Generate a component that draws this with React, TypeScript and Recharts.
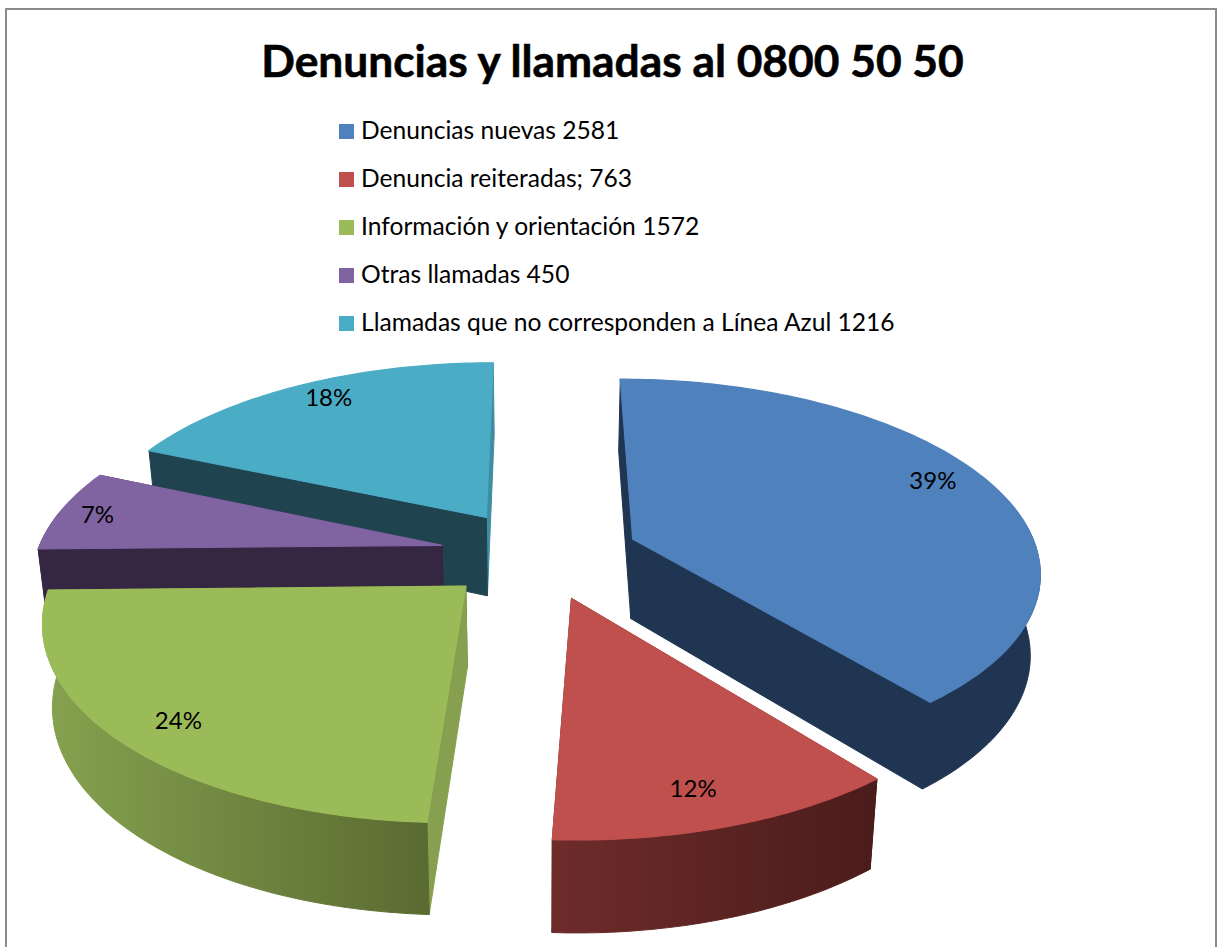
import { PieChart, Pie, Legend } from "recharts";

const categories = [
  "Denuncias nuevas 2581",
  "Denuncia reiteradas; 763",
  "Información y orientación 1572",
  "Otras llamadas 450",
  "Llamadas que no corresponden a Línea Azul 1216",
];
const values = [2581, 763, 1572, 450, 1216];
const colors = ["#4F81BD", "#C0504D", "#9BBB59", "#8064A2", "#4BACC6"];

// wall shades: [low angle wall, high angle wall], then outer wall gradient left -> right
const radialWalls = [
  ["#1F3552", "#1F3552"],
  ["#4A1C1B", "#4A1C1B"],
  ["#87A04F", "#5C6E30"],
  ["#352742", "#352742"],
  ["#1F4450", "#3F8DA3"],
];
const outerWalls = [
  ["#1F3552", "#1F3552"],
  ["#6E2C2B", "#4A1C1B"],
  ["#86A24F", "#5A6B31"],
  ["#352742", "#352742"],
  ["#1F4450", "#1F4450"],
];
const labelRadius = [0.87, 0.845, 0.858, 0.903, 0.884];
const labelTurn = [-3.6, 1.3, -0.8, 0, 1.8];

// pie goes counter clockwise so slices paint back to front
const paintOrder = [0, 4, 3, 2, 1];
const table = paintOrder.map((i) => ({
  name: categories[i],
  value: values[i],
  fill: colors[i],
}));
const total = values.reduce((a, b) => a + b, 0);
const startAngle = 90 - (360 * values[0]) / total;

// fake 3D view
const TILT = 0.45;
const EYE = 2720;
const DEPTH = 80;
const EXPLODE = 100;
const WIDEN = 0.965;
const rad = Math.PI / 180;

const project = (cx: number, cy: number, X: number, Y: number, z: number) => {
  const s = EYE / (EYE + Y);
  const shrink = 1 - (0.02 * z) / DEPTH;
  return [cx + X * s * shrink, cy - Y * TILT * s * shrink + z * s];
};

const toPath = (pts: number[][]) =>
  "M" + pts.map((p) => p[0].toFixed(1) + "," + p[1].toFixed(1)).join("L") + "Z";

function Slice3D(props: any) {
  const { cx, cy, outerRadius, fill } = props;
  const i = categories.indexOf(props.name);
  const low = 90 - props.endAngle;
  const high = 90 - props.startAngle;
  const mid = ((low + high) / 2) * rad;
  const ox = EXPLODE * Math.sin(mid);
  const oy = EXPLODE * Math.cos(mid);
  const rim = (deg: number, z: number) =>
    project(
      cx,
      cy,
      ox + WIDEN * outerRadius * Math.sin(deg * rad),
      oy + outerRadius * Math.cos(deg * rad),
      z
    );
  const apex = (z: number) => project(cx, cy, ox, oy, z);

  const arcDegs: number[] = [];
  for (let d = low; d < high; d += 1) arcDegs.push(d);
  arcDegs.push(high);

  const topPts = [apex(0), ...arcDegs.map((d) => rim(d, 0))];
  const front = arcDegs.filter((d) => Math.cos(d * rad) < 0.2);
  const frontTop = front.map((d) => rim(d, 0));
  const frontBottom = front.map((d) => rim(d, DEPTH)).reverse();
  const xs = frontTop.map((p) => p[0]);
  const gradId = "outer-wall-" + i;
  const outerFill = `url(#${gradId})`;

  return (
    <g>
      <defs>
        <linearGradient
          id={gradId}
          gradientUnits="userSpaceOnUse"
          x1={xs.length ? Math.min(...xs) : 0}
          x2={xs.length ? Math.max(...xs) : 1}
          y1={0}
          y2={0}
        >
          <stop offset="0%" stopColor={outerWalls[i][0]} />
          <stop offset="100%" stopColor={outerWalls[i][1]} />
        </linearGradient>
      </defs>
      <path d={toPath([apex(0), rim(high, 0), rim(high, DEPTH), apex(DEPTH)])} fill={radialWalls[i][1]} stroke={radialWalls[i][1]} strokeWidth={1} />
      <path d={toPath([apex(0), rim(low, 0), rim(low, DEPTH), apex(DEPTH)])} fill={radialWalls[i][0]} stroke={radialWalls[i][0]} strokeWidth={1} />
      {front.length > 1 && <path d={toPath([...frontTop, ...frontBottom])} fill={outerFill} stroke={outerFill} strokeWidth={1} />}
      <path d={toPath(topPts)} fill={fill} stroke={fill} strokeWidth={1.2} />
    </g>
  );
}

function renderLabel(props: any) {
  const { cx, cy, outerRadius, midAngle, percent, name } = props;
  const i = categories.indexOf(name);
  const deg = (90 - midAngle) * rad;
  const turned = deg + labelTurn[i] * rad;
  const r = outerRadius * labelRadius[i];
  const [x, y] = project(
    cx,
    cy,
    EXPLODE * Math.sin(deg) + WIDEN * r * Math.sin(turned),
    EXPLODE * Math.cos(deg) + r * Math.cos(turned),
    0
  );
  return (
    <text x={x} y={y} textAnchor="middle" dominantBaseline="central" fill="#000" fontSize={24} fontFamily="Lato, sans-serif">
      {Math.round(percent * 100)}%
    </text>
  );
}

export default function App() {
  return (
    <div style={{ position: "absolute", left: 0, top: 0, width: 1218, height: 947, overflow: "hidden", background: "#fff", fontFamily: "Lato, sans-serif" }}>
      <style>{".recharts-legend-item svg{position:relative;top:-3px}"}</style>
      <div style={{ position: "absolute", left: 5, top: 8, width: 1208, height: 1000, border: "2px solid #8c8c8c" }} />
      <div style={{ position: "absolute", left: 0, width: 1225, top: 30, textAlign: "center", fontSize: 44.3, fontWeight: 700, lineHeight: "60px", color: "#000", whiteSpace: "nowrap", WebkitTextStroke: "0.6px #000" }}>
        Denuncias y llamadas al 0800 50 50
      </div>
      <PieChart width={1218} height={947} margin={{ top: 0, right: 0, bottom: 0, left: 0 }} style={{ position: "absolute", left: 0, top: 0 }}>
        <Pie
          data={table}
          dataKey="value"
          nameKey="name"
          cx={539.5}
          cy={554}
          outerRadius={420}
          startAngle={startAngle}
          endAngle={startAngle + 360}
          stroke="none"
          shape={Slice3D}
          label={renderLabel}
          labelLine={false}
          isAnimationActive={false}
          rootTabIndex={-1}
        />
        <Legend
          layout="vertical"
          align="center"
          verticalAlign="middle"
          iconType="square"
          iconSize={15}
          itemSorter={(item: any) => categories.indexOf(item.value)}
          wrapperStyle={{ left: 339, top: 106, width: 700 }}
          formatter={(value: string) => (
            <span style={{ color: "#000", fontSize: 24.6, lineHeight: "48px", marginLeft: 3 }}>{value}</span>
          )}
        />
      </PieChart>
    </div>
  );
}
